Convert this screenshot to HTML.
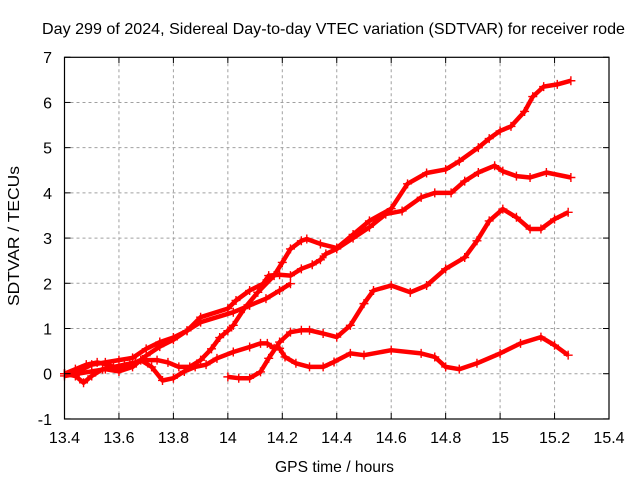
<!DOCTYPE html>
<html><head><meta charset="utf-8"><style>
body{margin:0;background:#fff}
svg{display:block;font-family:"Liberation Sans",sans-serif}
</style></head><body>
<svg id="chart" width="640" height="480">
<rect width="640" height="480" fill="#fff"/>
<text x="333.5" y="34" font-size="16" text-anchor="middle" textLength="583" lengthAdjust="spacingAndGlyphs" fill="#000">Day 299 of 2024, Sidereal Day-to-day VTEC variation (SDTVAR) for receiver rode</text>
<g id="grid"></g>
<g id="series"></g>
<rect x="64.5" y="57.3" width="544.5" height="361.7" fill="none" stroke="#000" stroke-width="1.2"/>
<g id="ticks"></g>
<text x="334.5" y="472" font-size="16" text-anchor="middle" textLength="119" lengthAdjust="spacingAndGlyphs">GPS time / hours</text>
<text x="0" y="0" font-size="16" text-anchor="middle" textLength="140" lengthAdjust="spacingAndGlyphs" transform="translate(19,236) rotate(-90)">SDTVAR / TECUs</text>
</svg>
<script>
const xTicks=[13.4,13.6,13.8,14,14.2,14.4,14.6,14.8,15,15.2,15.4];
const xTickLabels=["13.4","13.6","13.8","14","14.2","14.4","14.6","14.8","15","15.2","15.4"];
const yTicks=[-1,0,1,2,3,4,5,6,7];
const yTickLabels=["-1","0","1","2","3","4","5","6","7"];

const seriesAx=[13.40,13.44,13.47,13.50,13.54,13.58,13.62,13.66,13.70,13.74,13.78,13.82,13.86,13.90,13.94,13.97,14.00,14.02,14.06,14.11,14.17,14.20,14.23,14.27,14.29,14.34,14.40,14.46,14.52,14.60,14.66,14.73,14.80,14.85,14.92,14.96,15.00,15.04,15.09,15.12,15.16,15.21,15.26];
const seriesAy=[0.0,-0.05,-0.2,-0.05,0.1,0.15,0.2,0.25,0.3,0.3,0.25,0.15,0.15,0.3,0.55,0.8,0.95,1.07,1.44,1.8,2.17,2.46,2.76,2.94,2.98,2.87,2.78,3.08,3.38,3.65,4.2,4.44,4.52,4.7,5.0,5.2,5.37,5.47,5.8,6.13,6.35,6.4,6.48];

const seriesBx=[13.40,13.45,13.50,13.55,13.60,13.65,13.70,13.75,13.80,13.85,13.90,14.00,14.03,14.08,14.13,14.15,14.19,14.23,14.27,14.31,14.34,14.36,14.40,14.46,14.52,14.58,14.64,14.71,14.76,14.82,14.87,14.92,14.98,15.01,15.06,15.11,15.17,15.26];
const seriesBy=[0.0,0.05,0.2,0.25,0.3,0.35,0.55,0.7,0.8,0.95,1.25,1.44,1.62,1.84,1.99,2.17,2.19,2.17,2.32,2.41,2.52,2.65,2.76,3.0,3.24,3.53,3.6,3.9,4.0,4.0,4.26,4.45,4.6,4.48,4.37,4.34,4.45,4.34];

const seriesCx=[14.00,14.04,14.08,14.12,14.15,14.19,14.23,14.27,14.30,14.35,14.40,14.45,14.50,14.535,14.60,14.67,14.73,14.80,14.87,14.915,14.96,15.01,15.06,15.11,15.15,15.20,15.25];
const seriesCy=[-0.07,-0.1,-0.1,0.04,0.34,0.7,0.92,0.96,0.96,0.89,0.81,1.07,1.55,1.84,1.95,1.8,1.95,2.32,2.57,2.94,3.38,3.64,3.46,3.2,3.2,3.42,3.57];

const seriesDx=[13.40,13.44,13.48,13.52,13.56,13.60,13.64,13.68,13.72,13.76,13.80,13.84,13.88,13.92,13.96,14.02,14.08,14.12,14.145,14.17,14.19,14.21,14.25,14.30,14.35,14.39,14.45,14.50,14.60,14.71,14.76,14.80,14.85,14.915,15.00,15.075,15.15,15.20,15.25];
const seriesDy=[0.0,0.1,0.2,0.25,0.2,0.1,0.2,0.3,0.15,-0.15,-0.1,0.05,0.15,0.2,0.34,0.48,0.59,0.67,0.67,0.56,0.56,0.37,0.23,0.15,0.15,0.26,0.45,0.41,0.52,0.45,0.37,0.15,0.1,0.23,0.45,0.67,0.81,0.63,0.41];

const seriesEx=[13.40,13.45,13.50,13.55,13.60,13.65,13.70,13.75,13.80,13.85,13.90,14.02,14.08,14.14,14.19,14.23];
const seriesEy=[-0.05,0.0,0.05,0.1,0.05,0.15,0.4,0.6,0.75,0.95,1.14,1.36,1.51,1.66,1.84,1.99];

const X0=64.5,XS=272.25,Y0=373.7,YS=45.21;
function xs(h){return X0+(h-13.4)*XS;}
function ys(v){return Y0-v*YS;}
const NS="http://www.w3.org/2000/svg";
function mk(tag,attrs,parent){const e=document.createElementNS(NS,tag);for(const k in attrs)e.setAttribute(k,attrs[k]);parent.appendChild(e);return e;}
const grid=document.getElementById('grid'),ticks=document.getElementById('ticks'),ser=document.getElementById('series');

xTicks.forEach((t,i)=>{
  const x=xs(t);
  if(i>0&&i<xTicks.length-1){
    const g=mk('line',{x1:x,y1:57.3,x2:x,y2:419,stroke:'#a0a0a0','stroke-dasharray':'3,3','stroke-width':1},grid);
    
    
  }
  const t1=mk('line',{x1:x,y1:419,x2:x,y2:413,stroke:'#000'},ticks);
  
  
  const t2=mk('line',{x1:x,y1:57.3,x2:x,y2:63,stroke:'#000'},ticks);
  
  
  const lb=mk('text',{x:x,y:443,'font-size':16,'text-anchor':'middle'},ticks);
  lb.textContent=xTickLabels[i];
  
  
});
yTicks.forEach((t,i)=>{
  const y=ys(t);
  if(i>0&&i<yTicks.length-1){
    const g=mk('line',{x1:64.5,y1:y,x2:609,y2:y,stroke:'#a0a0a0','stroke-dasharray':'3,3','stroke-width':1},grid);
    
    
  }
  const t1=mk('line',{x1:64.5,y1:y,x2:70.5,y2:y,stroke:'#000'},ticks);
  
  
  const t2=mk('line',{x1:603,y1:y,x2:609,y2:y,stroke:'#000'},ticks);
  
  
  const lb=mk('text',{x:52,y:y+6,'font-size':16,'text-anchor':'end'},ticks);
  lb.textContent=yTickLabels[i];
  
  
});

function drawSeries(xsArr,ysArr,name){
  const g=mk('g',{},ser);
  
  
  const pts=xsArr.map((h,i)=>xs(h).toFixed(1)+','+ys(ysArr[i]).toFixed(1)).join(' ');
  const pl=mk('polyline',{points:pts,fill:'none',stroke:'#ff0000','stroke-width':4.5,'stroke-linejoin':'round'},g);
  
  
  xsArr.forEach((h,i)=>{
    const x=xs(h),y=ys(ysArr[i]);
    const p=mk('path',{d:`M${x-4.5},${y}h9M${x},${y-4.5}v9`,stroke:'#ff0000','stroke-width':1.4,fill:'none'},g);
    
    
  });
}
drawSeries(seriesAx,seriesAy,'series-a');
drawSeries(seriesBx,seriesBy,'series-b');
drawSeries(seriesCx,seriesCy,'series-c');
drawSeries(seriesDx,seriesDy,'series-d');
drawSeries(seriesEx,seriesEy,'series-e');
</script>
</body></html>
